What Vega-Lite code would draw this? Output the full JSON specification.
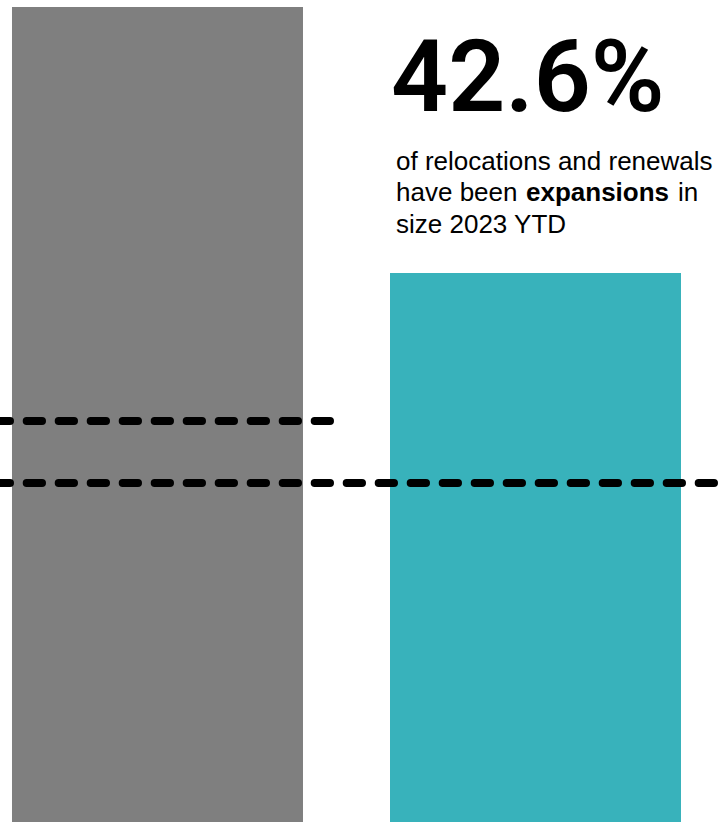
{
  "$schema": "https://vega.github.io/schema/vega-lite/v6.json",
  "width": 726,
  "height": 822,
  "autosize": {"type": "none"},
  "padding": 0,
  "background": "white",
  "config": {"view": {"stroke": null}},
  "layer": [
    {
      "data": {"values": [
        {"category": "Relocations & renewals", "value": 99.15},
        {"category": "Expansions", "value": 66.79}
      ]},
      "mark": {"type": "bar"},
      "encoding": {
        "x": {
          "field": "category", "type": "nominal", "sort": null,
          "scale": {"paddingInner": 0.2302, "paddingOuter": 0.0754, "align": 0.2105},
          "axis": null
        },
        "y": {"field": "value", "type": "quantitative", "scale": {"domain": [0, 100], "nice": false, "zero": true}, "axis": null},
        "color": {
          "field": "category", "type": "nominal",
          "scale": {"domain": ["Relocations & renewals", "Expansions"], "range": ["#7f7f7f", "#38b2bb"]},
          "legend": null
        }
      }
    },
    {
      "data": {"values": [
        {"level": 48.78, "from": 0, "to": 46.5},
        {"level": 41.24, "from": 0, "to": 100}
      ]},
      "mark": {"type": "rule", "color": "black", "strokeWidth": 8, "strokeCap": "round", "strokeDash": [15.3, 16.7], "strokeDashOffset": 5.3},
      "encoding": {
        "x": {"field": "from", "type": "quantitative", "scale": {"domain": [0, 100], "nice": false}, "axis": null},
        "x2": {"field": "to"},
        "y": {"field": "level", "type": "quantitative", "axis": null}
      }
    },
    {
      "data": {"values": [
        {"t": "of relocations and renewals", "pos": 54.55, "line": 79.32},
        {"t": "have been", "pos": 54.55, "line": 75.55},
        {"t": "in", "pos": 93.39, "line": 75.55},
        {"t": "size 2023 YTD", "pos": 54.55, "line": 71.65}
      ]},
      "mark": {"type": "text", "align": "left", "baseline": "alphabetic", "font": "Liberation Sans", "fontSize": 26, "color": "black"},
      "encoding": {
        "x": {"field": "pos", "type": "quantitative", "scale": {"domain": [0, 100], "nice": false}, "axis": null},
        "y": {"field": "line", "type": "quantitative", "axis": null},
        "text": {"field": "t"}
      }
    },
    {
      "data": {"values": [
        {"t": "expansions", "pos": 72.45, "line": 75.55}
      ]},
      "mark": {"type": "text", "align": "left", "baseline": "alphabetic", "font": "Liberation Sans", "fontWeight": "bold", "fontSize": 26, "color": "black"},
      "encoding": {
        "x": {"field": "pos", "type": "quantitative", "scale": {"domain": [0, 100], "nice": false}, "axis": null},
        "y": {"field": "line", "type": "quantitative", "axis": null},
        "text": {"field": "t"}
      }
    },
    {
      "data": {"values": [
        {"t": "42.6%", "pos": 53.86, "line": 86.5}
      ]},
      "mark": {"type": "text", "align": "left", "baseline": "alphabetic", "font": "Roboto", "fontWeight": 600, "fontSize": 100, "color": "black"},
      "encoding": {
        "x": {"field": "pos", "type": "quantitative", "scale": {"domain": [0, 100], "nice": false}, "axis": null},
        "y": {"field": "line", "type": "quantitative", "axis": null},
        "text": {"field": "t"}
      }
    }
  ],
  "resolve": {"scale": {"x": "independent"}}
}
